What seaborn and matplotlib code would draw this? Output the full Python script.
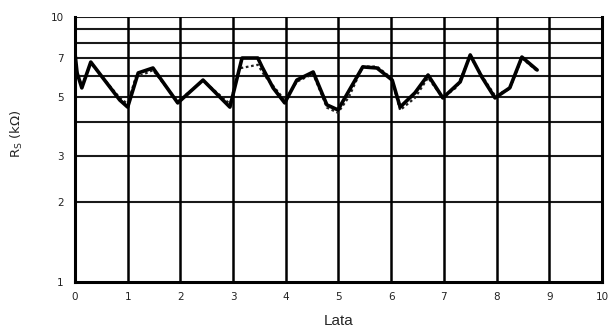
import pandas as pd
import seaborn as sns
import matplotlib.pyplot as plt
from matplotlib.ticker import FixedLocator, NullFormatter

# Rs readings over the years (two series: solid and dotted)
years_a = [0.00, 0.04, 0.13, 0.30, 0.85, 1.00, 1.20, 1.48, 1.95, 2.43, 2.94,
           3.17, 3.47, 3.55, 3.76, 3.98, 4.21, 4.52, 4.78, 4.99, 5.46, 5.73,
           6.02, 6.17, 6.45, 6.70, 6.98, 7.31, 7.50, 7.72, 7.97, 8.25, 8.48, 8.77]
rs_a = [7.3, 6.15, 5.4, 6.76, 4.86, 4.57, 6.15, 6.42, 4.74, 5.78, 4.57,
        7.0, 7.0, 6.48, 5.4, 4.74, 5.78, 6.2, 4.66, 4.46, 6.48, 6.42,
        5.78, 4.57, 5.17, 6.04, 4.95, 5.69, 7.19, 5.94, 4.95, 5.4, 7.06, 6.31]

years_b = [0.00, 0.04, 0.13, 0.30, 0.85, 1.00, 1.15, 1.48, 1.95, 2.43, 2.94,
           3.12, 3.47, 3.60, 3.76, 3.98, 4.21, 4.52, 4.78, 4.99, 5.20, 5.46, 5.73,
           6.00, 6.17, 6.45, 6.70, 6.98, 7.25, 7.50, 7.72, 7.97, 8.25, 8.48, 8.77]
rs_b = [7.2, 6.2, 5.5, 6.7, 4.95, 4.7, 5.9, 6.3, 4.8, 5.75, 4.7,
        6.4, 6.6, 6.0, 5.5, 4.85, 5.7, 6.1, 4.55, 4.35, 5.0, 6.5, 6.5,
        5.9, 4.45, 4.95, 5.9, 4.95, 5.45, 7.1, 6.0, 5.05, 5.35, 7.0, 6.25]

y_ticks = [1, 2, 3, 5, 7, 10]
grid_levels = [2, 3, 4, 5, 6, 7, 8, 9, 10]
x_ticks = list(range(0, 11))

sns.set_style('white')
plt.rcParams['font.family'] = ['DejaVu Sans']

fig = plt.figure(figsize=(6.13, 3.33), dpi=100)
ax = fig.add_axes([0.1223, 0.1532, 0.8597, 0.7958])

df_a = pd.DataFrame({'year': years_a, 'rs': rs_a})
df_b = pd.DataFrame({'year': years_b, 'rs': rs_b})

sns.lineplot(data=df_b, x='year', y='rs', ax=ax, color='#222222',
             linewidth=1.6, linestyle=(0, (1.2, 1.2)))
sns.lineplot(data=df_a, x='year', y='rs', ax=ax, color='black',
             linewidth=2.6)

ax.set_yscale('log')
ax.set_xlim(0, 10)
ax.set_ylim(1, 10)

# graph-paper style grid
for lv in grid_levels:
    ax.axhline(lv, color='#1a1a1a', linewidth=1.5, zorder=0)
for xv in x_ticks:
    ax.axvline(xv, color='black', linewidth=1.8, zorder=0)

ax.yaxis.set_major_locator(FixedLocator(y_ticks))
ax.yaxis.set_minor_formatter(NullFormatter())
ax.set_yticks(y_ticks)
ax.set_yticklabels([str(v) for v in y_ticks])
ax.set_xticks(x_ticks)
ax.set_xticklabels([str(v) for v in x_ticks])
ax.tick_params(axis='both', which='both', length=0, labelsize=7.5,
               colors='#222222')
ax.tick_params(axis='x', pad=7)
ax.tick_params(axis='y', pad=8)

for side in ['left', 'bottom', 'right']:
    ax.spines[side].set_linewidth(2.2)
    ax.spines[side].set_color('black')
ax.spines['top'].set_visible(False)

ax.set_xlabel('Lata', fontsize=11, family=['Liberation Sans', 'DejaVu Sans'])
ax.xaxis.set_label_coords(0.5, -0.12)
ax.set_ylabel(r'R$_\mathrm{S}$ (kΩ)', fontsize=9.5)
ax.yaxis.set_label_coords(-0.095, 0.56)

fig.savefig('out.png', dpi=100)
